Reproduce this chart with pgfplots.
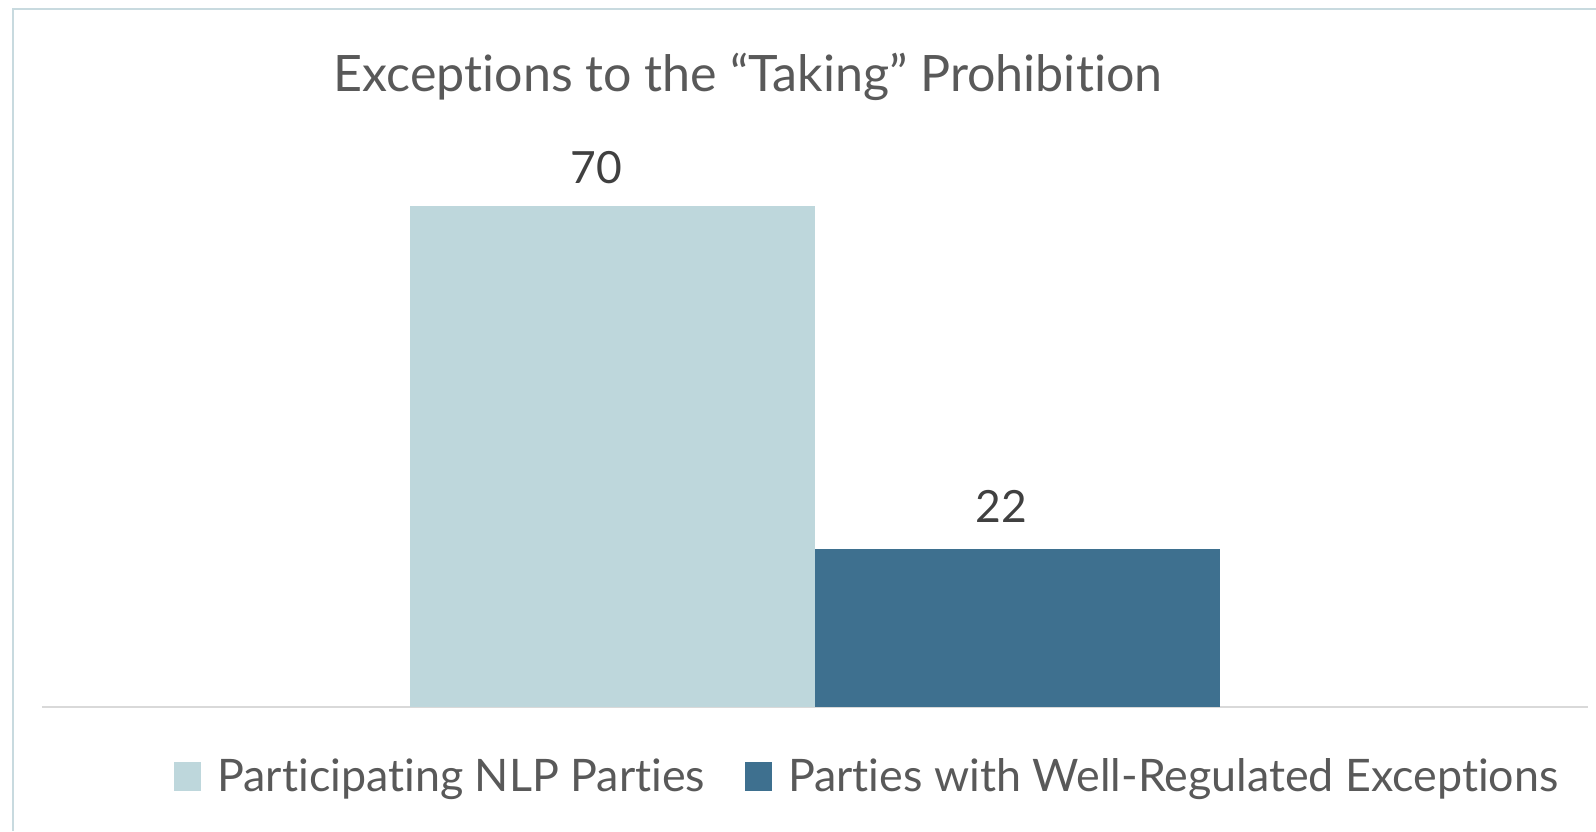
\documentclass[border=0pt]{standalone}
\usepackage{fontspec}
\setmainfont{Lato}[Ligatures=NoCommon]
\usepackage{pgfplots}
\pgfplotsset{compat=1.18}

\definecolor{barlight}{RGB}{190,215,220}
\definecolor{bardark}{RGB}{62,112,143}
\definecolor{txtgray}{RGB}{89,89,89}
\definecolor{lblgray}{RGB}{64,64,64}
\definecolor{frame}{RGB}{200,218,223}
\definecolor{baseline}{RGB}{217,217,217}

\begin{document}
\begin{tikzpicture}
% 1 px of the reference = 0.5pt
\path[use as bounding box] (0,0) rectangle (798pt,415.5pt);
\draw[frame, line width=1pt] (6.25pt,0) -- (6.25pt,410.75pt) -- (798pt,410.75pt);

\node[anchor=base, font=\fontsize{25.1}{28}\selectfont, text=txtgray]
  at (374pt,369.5pt) {Exceptions to the “Taking” Prohibition};

\begin{axis}[
    at={(21pt,62pt)}, anchor=south west,
    scale only axis,
    width=773pt, height=286.4pt,
    ybar=0pt, bar width=202.5pt,
    xmin=-1, xmax=1, ymin=0, ymax=80,
    xtick=\empty, ytick=\empty,
    axis x line*=bottom, hide y axis,
    x axis line style={draw=baseline, line width=0.8pt},
    /pgf/number format/assume math mode=true,
    nodes near coords,
    every node near coord/.append style={
        font=\fontsize{22.2}{25}\selectfont, text=lblgray,
        anchor=base, xshift=-8pt},
    legend columns=2,
    legend style={
        at={(0.0854,-0.1222)}, anchor=west,
        draw=none, fill=none, inner sep=0pt,
        font=\fontsize{22.4}{25}\selectfont, text=txtgray,
        nodes={inner sep=0pt},
        /tikz/every odd column/.append style={column sep=8pt},
        /tikz/every even column/.append style={column sep=20pt}},
    legend image code/.code={\fill[#1] (0pt,-7.25pt) rectangle (13.5pt,7.25pt);},
]
\addplot[fill=barlight, draw=none,
    every node near coord/.append style={yshift=11pt}]
    coordinates {(0,70)};
\addplot[fill=bardark, draw=none,
    every node near coord/.append style={yshift=13.5pt}]
    coordinates {(0,22)};
\legend{Participating NLP Parties, Parties with Well-Regulated Exceptions}
\end{axis}
\end{tikzpicture}
\end{document}
